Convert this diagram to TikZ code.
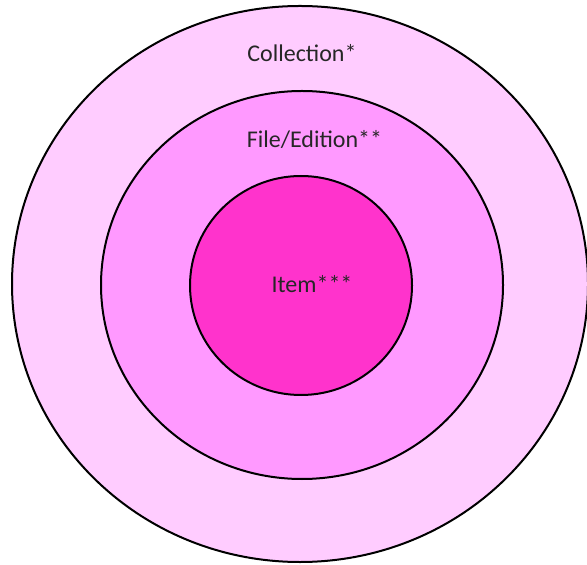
\documentclass[tikz,border=0pt]{standalone}
\usepackage{fontspec}
\setmainfont{Carlito}
\definecolor{pinkA}{HTML}{FFCCFF}
\definecolor{pinkB}{HTML}{FF99FF}
\definecolor{pinkC}{HTML}{FF33CC}
\begin{document}
\begin{tikzpicture}[x=0.5pt,y=-0.5pt,font=\fontsize{12}{14}\selectfont,ring/.style={draw=black,line width=1pt},lbl/.style={anchor=base,inner sep=0pt,text=black!85}]
\useasboundingbox (0,0) rectangle (587,565);
\foreach \c/\x/\y/\a/\b in {pinkA/300/284/288/278,pinkB/302/285/201/194,pinkC/301/285.5/111/109.5} {\filldraw[ring,fill=\c] (\x,\y) ellipse [x radius=\a, y radius=\b];}
\node[lbl] (coll) at (302,62) {Collection*};
\node[lbl] (file) at (314.5,148) {File/Edition**};
\node[lbl] (item) at (312,293) {Item***};
\end{tikzpicture}
\end{document}
